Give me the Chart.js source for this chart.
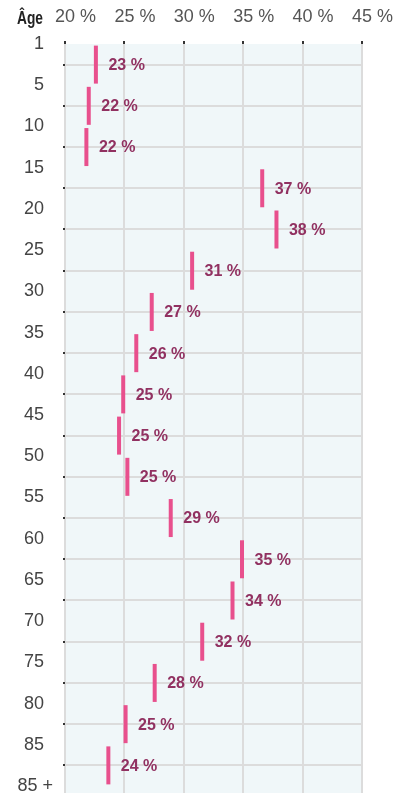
<!DOCTYPE html>
<html>
<head>
<meta charset="utf-8">
<script src="https://cdn.jsdelivr.net/npm/chart.js@4"></script>
<style>
html, body { margin: 0; padding: 0; background: #ffffff; }
canvas { display: block; }
</style>
</head>
<body>
<canvas id="c" width="404" height="793"></canvas>
<script>
// Age group boundary labels (left axis)
const ageLabels = ['1', '5', '10', '15', '20', '25', '30', '35', '40', '45', '50', '55', '60', '65', '70', '75', '80', '85'];
const lastAgeLabel = '85 +';
// Share values (%) for each age band
const shareValues = [22.6, 22.0, 21.8, 36.6, 37.8, 30.7, 27.3, 26.0, 24.9, 24.55, 25.25, 28.9, 34.9, 34.1, 31.55, 27.55, 25.1, 23.65];
// Top axis ticks (%)
const xTickValues = [20, 25, 30, 35, 40, 45];
const axisTitleText = 'Âge';

const Y_MAX = 18.17;
const FONT = '"Liberation Sans", Arial, Helvetica, sans-serif';

const plotBg = {
  id: 'plotBg',
  beforeDraw(chart) {
    const { ctx, chartArea: a } = chart;
    ctx.save();
    ctx.fillStyle = '#f0f7f9';
    ctx.fillRect(a.left, a.top, a.right - a.left, a.bottom - a.top);
    ctx.restore();
  }
};

const valueLabels = {
  id: 'valueLabels',
  afterDatasetsDraw(chart) {
    const ctx = chart.ctx;
    const meta = chart.getDatasetMeta(0);
    ctx.save();
    ctx.font = 'bold 16px ' + FONT;
    ctx.fillStyle = '#913161';
    ctx.textAlign = 'left';
    ctx.textBaseline = 'middle';
    meta.data.forEach((pt, i) => {
      ctx.fillText(Math.round(shareValues[i]) + ' %', pt.x + 12.5, pt.y + 1);
    });
    ctx.restore();
  }
};

const extraText = {
  id: 'extraText',
  afterDraw(chart) {
    const ctx = chart.ctx;
    ctx.save();
    ctx.font = 'bold 18px ' + FONT;
    ctx.fillStyle = '#222222';
    ctx.textAlign = 'left';
    ctx.textBaseline = 'alphabetic';
    ctx.fillText(axisTitleText, 17, 23.5, 26);
    // open-ended last age boundary, on the same age scale
    const ys = chart.scales.y;
    ctx.font = '18px ' + FONT;
    ctx.fillStyle = '#444444';
    ctx.textAlign = 'right';
    ctx.textBaseline = 'middle';
    ctx.fillText(lastAgeLabel, 53, ys.getPixelForValue(ageLabels.length));
    ctx.restore();
  }
};

const yLabelFont = { family: FONT, size: 18 };

new Chart(document.getElementById('c'), {
  type: 'scatter',
  data: {
    datasets: [{
      data: shareValues.map((v, i) => ({ x: v, y: i + 0.5 })),
      pointStyle: 'line',
      rotation: 90,
      radius: 19,
      hoverRadius: 19,
      borderWidth: 4,
      hoverBorderWidth: 4,
      borderColor: '#e8508d',
      backgroundColor: '#e8508d',
      showLine: false
    }]
  },
  options: {
    responsive: false,
    animation: false,
    events: [],
    layout: { autoPadding: false, padding: { top: 0, right: 42, bottom: 0, left: 0 } },
    plugins: {
      legend: { display: false },
      tooltip: { enabled: false },
      title: { display: false }
    },
    scales: {
      x: {
        type: 'linear',
        position: 'top',
        min: 20,
        max: 45,
        afterBuildTicks: s => { s.ticks = xTickValues.map(v => ({ value: v })); },
        afterFit: s => { s.height = 44; s.paddingLeft = 0; s.paddingRight = 0; },
        border: { display: false },
        grid: { color: '#dcdcdc', lineWidth: 2, tickColor: '#333333', tickLength: 3, tickWidth: 2 },
        ticks: {
          callback: v => v + ' %',
          font: { family: FONT, size: 18 },
          color: '#555555',
          padding: 13,
          labelOffset: 10.5,
          maxRotation: 0,
          autoSkip: false
        }
      },
      y: {
        type: 'linear',
        position: 'left',
        reverse: true,
        min: 0,
        max: Y_MAX,
        weight: 1,
        afterBuildTicks: s => { s.ticks = ageLabels.map((_, i) => ({ value: i })); },
        afterFit: s => { s.width = 62; s.paddingTop = 0; s.paddingBottom = 0; },
        border: { display: false },
        grid: { display: false, drawTicks: false },
        ticks: {
          callback: v => ageLabels[Math.round(v)],
          font: yLabelFont,
          color: '#444444',
          padding: 18,
          autoSkip: false
        }
      },
      y2: {
        type: 'linear',
        position: 'left',
        reverse: true,
        min: 0,
        max: Y_MAX,
        weight: 0,
        afterBuildTicks: s => { s.ticks = shareValues.map((_, i) => ({ value: i + 0.5 })); },
        afterFit: s => { s.width = 3; s.paddingTop = 0; s.paddingBottom = 0; },
        border: { display: false },
        grid: { color: '#dcdcdc', lineWidth: 2, tickColor: '#333333', tickLength: 2, tickWidth: 2 },
        ticks: { display: false }
      }
    }
  },
  plugins: [plotBg, valueLabels, extraText]
});
</script>
</body>
</html>
